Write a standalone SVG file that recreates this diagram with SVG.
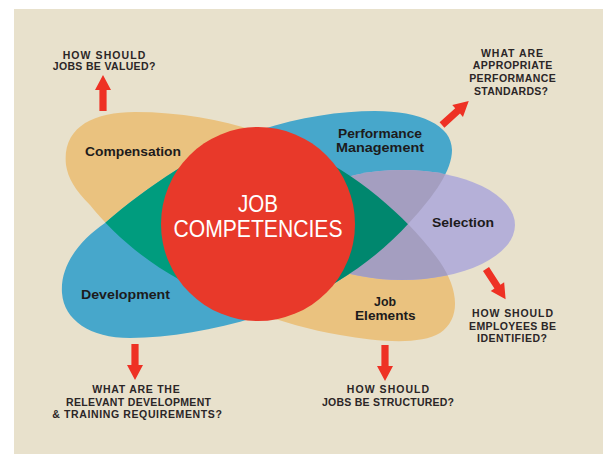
<svg xmlns="http://www.w3.org/2000/svg" width="603" height="454" viewBox="0 0 603 454">
<defs>
<style>
.lbl{font-family:"Liberation Sans",Arial,sans-serif;font-weight:bold;font-size:13px;fill:#1d1b1c;text-anchor:middle}
.q{font-family:"Liberation Sans",Arial,sans-serif;font-weight:bold;font-size:10.5px;fill:#2b2627;text-anchor:middle}
.ctr{font-family:"Liberation Sans",Arial,sans-serif;font-size:24px;fill:#ffffff;text-anchor:middle}
.arr{fill:#EE3124}
</style>
<path id="tanPath" d="M 66,165 C 62,128 92,112 135,112 C 200,112 255,128 300,148 C 360,175 410,220 440,262 C 458,288 462,318 440,333 C 420,345 380,342 340,335 C 280,325 220,300 180,280 C 140,258 110,230 90,205 C 75,190 68,178 66,165 Z"/>
<path id="bluePath" d="M 62,293 C 60,265 80,240 105,223 C 150,185 200,150 260,130 C 300,117 340,111 375,111 C 420,111 452,125 452,150 C 452,170 435,195 409,223 C 380,255 340,285 290,305 C 240,325 180,338 130,338 C 90,338 64,320 62,293 Z"/>
<clipPath id="clipTan"><use href="#tanPath"/></clipPath>
<clipPath id="clipBlue"><use href="#bluePath"/></clipPath>
<clipPath id="clipBoth"><use href="#tanPath"/><use href="#bluePath"/></clipPath>
<polygon id="arrowShape" points="0,-3.6 21,-3.6 21,-8 36,0 21,8 21,3.6 0,3.6"/>
</defs>
<rect x="0" y="0" width="603" height="454" fill="#ffffff"/>
<rect x="14" y="9" width="589" height="445" fill="#E8E1CC"/>

<g id="petals">
<use id="petal-tan" href="#tanPath" fill="#EAC27F"/>
<use id="petal-blue" href="#bluePath" fill="#47A7CB"/>
<ellipse id="petal-purple" cx="402" cy="225" rx="113" ry="55" fill="#B5B0D8"/>
<g clip-path="url(#clipBoth)"><ellipse cx="402" cy="225" rx="113" ry="55" fill="#A49EC0"/></g>
<g clip-path="url(#clipBlue)"><g clip-path="url(#clipTan)">
<rect x="60" y="100" width="199" height="250" fill="#009C7E"/>
<rect x="259" y="100" width="200" height="250" fill="#00876E"/>
</g></g>
</g>

<g id="node-compensation"><text class="lbl" x="133" y="156" textLength="96" lengthAdjust="spacingAndGlyphs">Compensation</text></g>
<g id="node-performance"><text class="lbl" x="380" y="138.3" textLength="84" lengthAdjust="spacingAndGlyphs">Performance</text><text class="lbl" x="380" y="152" textLength="88" lengthAdjust="spacingAndGlyphs">Management</text></g>
<g id="node-selection"><text class="lbl" x="463" y="226.7" textLength="62" lengthAdjust="spacingAndGlyphs">Selection</text></g>
<g id="node-development"><text class="lbl" x="125.5" y="299.3" textLength="89" lengthAdjust="spacingAndGlyphs">Development</text></g>
<g id="node-jobelements"><text class="lbl" x="385" y="305.6" textLength="22" lengthAdjust="spacingAndGlyphs">Job</text><text class="lbl" x="385.3" y="320.4" textLength="60.5" lengthAdjust="spacingAndGlyphs">Elements</text></g>

<g id="node-center">
<circle cx="258" cy="224" r="97" fill="#E8392A"/>
<text class="ctr" x="258" y="211.7" textLength="40" lengthAdjust="spacingAndGlyphs">JOB</text>
<text class="ctr" x="258" y="236.7" textLength="169" lengthAdjust="spacingAndGlyphs">COMPETENCIES</text>
</g>

<g id="connectors">
<use class="arr" href="#arrowShape" transform="translate(103,111) rotate(-90)"/>
<use class="arr" href="#arrowShape" transform="translate(442,125) rotate(-42)"/>
<use class="arr" href="#arrowShape" transform="translate(486,269) rotate(57)"/>
<use class="arr" href="#arrowShape" transform="translate(135,344) rotate(90)"/>
<use class="arr" href="#arrowShape" transform="translate(385,345) rotate(90)"/>
</g>

<g id="q-valued"><text class="q" x="104" y="58.7" textLength="82.6">HOW SHOULD</text><text class="q" x="104" y="70.3" textLength="102.6">JOBS BE VALUED?</text></g>
<g id="q-standards"><text class="q" x="512" y="56.7" textLength="62">WHAT ARE</text><text class="q" x="512.5" y="69.3" textLength="79.6">APPROPRIATE</text><text class="q" x="512.5" y="82.3" textLength="86.7">PERFORMANCE</text><text class="q" x="511" y="95" textLength="74">STANDARDS?</text></g>
<g id="q-identified"><text class="q" x="512.5" y="316.7" textLength="81">HOW SHOULD</text><text class="q" x="512.5" y="330" textLength="87">EMPLOYEES BE</text><text class="q" x="512" y="342.3" textLength="70">IDENTIFIED?</text></g>
<g id="q-training"><text class="q" x="136" y="393.3" textLength="87.3">WHAT ARE THE</text><text class="q" x="138.5" y="406" textLength="145">RELEVANT DEVELOPMENT</text><text class="q" x="137" y="418.3" textLength="169.7">&amp; TRAINING REQUIREMENTS?</text></g>
<g id="q-structured"><text class="q" x="388" y="392.7" textLength="82.3">HOW SHOULD</text><text class="q" x="388" y="406" textLength="132">JOBS BE STRUCTURED?</text></g>
</svg>
